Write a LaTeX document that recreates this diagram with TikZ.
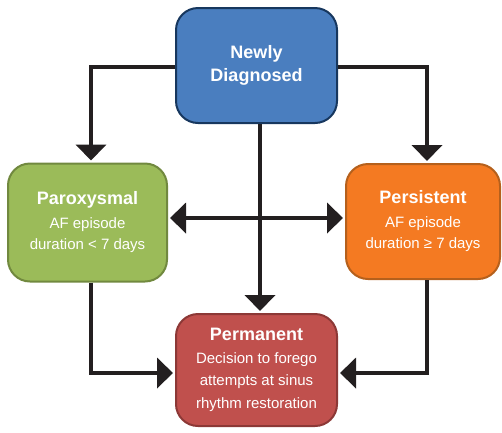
\documentclass[tikz,border=0pt]{standalone}
\usepackage{fontspec}
\setmainfont{Liberation Sans}
\usetikzlibrary{arrows.meta}
\definecolor{ndfill}{HTML}{4A7EBF}
\definecolor{nddraw}{HTML}{17375E}
\definecolor{parfill}{HTML}{9BBB59}
\definecolor{pardraw}{HTML}{71893F}
\definecolor{perfill}{HTML}{F47A22}
\definecolor{perdraw}{HTML}{B5601C}
\definecolor{permfill}{HTML}{C0504D}
\definecolor{permdraw}{HTML}{8C3836}
\definecolor{arrowcol}{HTML}{231F20}
\tikzset{
  box/.style={rounded corners=22pt, line width=2pt, text=white, align=center,
    inner sep=0pt, font=\fontsize{15}{21}\selectfont},
  arr/.style={draw=arrowcol, line width=4.5pt,
    -{Triangle[width=30pt,length=16pt]}, shorten >=2pt},
  arrtwo/.style={draw=arrowcol, line width=4.5pt,
    {Triangle[width=30pt,length=16pt]}-{Triangle[width=30pt,length=16pt]},
    shorten >=2pt, shorten <=2pt}
}
\newcommand{\boxtitle}[1]{{\fontsize{18}{22}\selectfont\bfseries #1}}
\begin{document}
\begin{tikzpicture}[x=1pt,y=-1pt]
\useasboundingbox (0,0) rectangle (502,432);
\node[box, fill=ndfill, draw=nddraw, minimum width=161pt, minimum height=115pt,
  font=\fontsize{18}{23}\selectfont\bfseries]
  (nd) at (256.5,65.5) {Newly\\Diagnosed};
\node[box, fill=parfill, draw=pardraw, minimum width=159pt, minimum height=118pt]
  (par) at (87.5,222.5) {\boxtitle{Paroxysmal}\\[3pt]AF episode\\duration < 7 days};
\node[box, fill=perfill, draw=perdraw, minimum width=154pt, minimum height=115pt]
  (per) at (423,221.5) {\boxtitle{Persistent}\\[3pt]AF episode\\duration ≥ 7 days};
\node[box, fill=permfill, draw=permdraw, minimum width=161pt, minimum height=112pt,
  font=\fontsize{15}{22.5}\selectfont]
  (perm) at (256.5,370) {\boxtitle{Permanent}\\Decision to forego\\attempts at sinus\\rhythm restoration};
\draw[arr] ([yshift=-1.5pt]nd.west) -| ([xshift=3.5pt]par.north);
\draw[arr] ([yshift=-1.5pt]nd.east) -| ([xshift=4pt]per.north);
\draw[arr] ([xshift=3.5pt]nd.south) -- ([xshift=3.5pt]perm.north);
\draw[arrtwo] ([yshift=4.5pt]par.east) -- ([yshift=4.5pt]par.east -| per.west);
\draw[arr] ([xshift=3.5pt]par.south) |- ([yshift=-3pt]perm.west);
\draw[arr] ([xshift=4pt]per.south) |- ([yshift=-3pt]perm.east);
\end{tikzpicture}
\end{document}
